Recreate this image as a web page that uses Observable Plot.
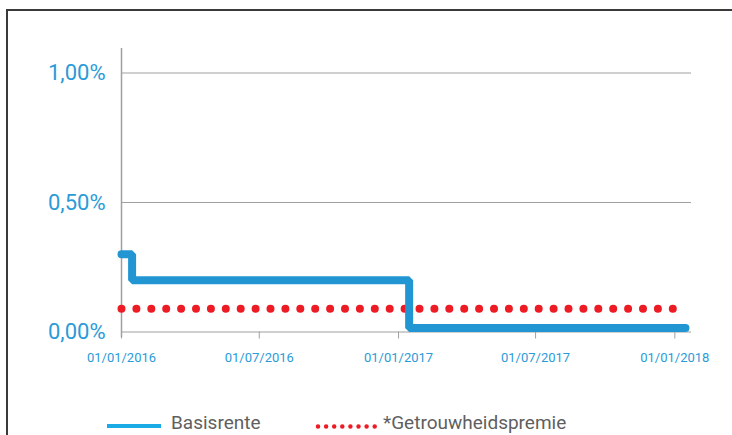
<!DOCTYPE html>
<html>
<head>
<meta charset="utf-8">
<script src="https://cdn.jsdelivr.net/npm/d3@7"></script>
<script src="https://cdn.jsdelivr.net/npm/@observablehq/plot@0.6"></script>
<style>
  html, body { margin: 0; padding: 0; background: #fff; }
  body { width: 732px; height: 435px; position: relative; overflow: hidden; font-family: Roboto, "Liberation Sans", sans-serif; }
  #frame { position: absolute; left: 6px; top: 9px; width: 740px; height: 440px; border-top: 2px solid #3a3a3a; border-left: 2px solid #3a3a3a; box-sizing: border-box; }
  #chart { position: absolute; left: 0; top: 0; }
  #legend { position: absolute; left: 0; top: 412px; width: 732px; height: 23px; font-size: 19px; line-height: 22px; color: #5f5f5f; }
  #legend .item { position: absolute; top: 0; display: flex; align-items: flex-start; white-space: nowrap; }
  #legend svg { display: block; }
</style>
</head>
<body>
<div id="frame"></div>
<div id="chart"></div>
<div id="legend"></div>
<script>
// Data
const seriesNames = ["Basisrente", "*Getrouwheidspremie"];
const basisDates = ["2016-01-01", "2016-01-15", "2017-01-15", "2018-01-15"];
const basisValues = [0.30, 0.20, 0.015, 0.015];
const premieDates = ["2016-01-01", "2018-01-15"];
const premieValues = [0.09, 0.09];
const yTicks = [0, 0.5, 1];
const xTicks = ["2016-01-01", "2016-07-01", "2017-01-01", "2017-07-01", "2018-01-01"];

const blue = "#2196d3";
const red = "#ed1c24";
const labelBlue = "#2b9bd8";
const grid = "#a0a0a0";

const parse = d3.utcParse("%Y-%m-%d");
const basis = basisDates.map((d, i) => ({date: parse(d), value: basisValues[i]}));
const premie = premieDates.map((d, i) => ({date: parse(d), value: premieValues[i]}));
const fmtY = d => d.toFixed(2).replace(".", ",") + "%";
const fmtX = d3.utcFormat("%d/%m/%Y");

const chart = Plot.plot({
  width: 732,
  height: 375,
  marginLeft: 121,
  marginRight: 41,
  marginTop: 72.5,
  marginBottom: 43.5,
  style: {fontFamily: "Roboto, 'Liberation Sans', sans-serif", background: "transparent", overflow: "visible"},
  x: {type: "utc", domain: [parse("2016-01-01"), parse("2018-01-23")]},
  y: {domain: [0, 1]},
  marks: [
    Plot.ruleY(yTicks, {stroke: grid, strokeWidth: 1.2}),
    Plot.ruleX([parse("2016-01-01")], {y1: 1.095, y2: -0.022, stroke: grid, strokeWidth: 1.5}),
    Plot.axisY({ticks: yTicks, tickSize: 0, tickPadding: 16, tickFormat: fmtY, fontSize: 22, color: labelBlue, label: null}),
    Plot.axisX({ticks: xTicks.map(parse), tickSize: 7, tickPadding: 14, tickFormat: fmtX, fontSize: 13, color: labelBlue, stroke: grid, label: null}),
    Plot.line(premie, {x: "date", y: "value", stroke: red, strokeWidth: 8, strokeDasharray: "0,14.9", strokeLinecap: "round"}),
    Plot.line(basis, {x: "date", y: "value", stroke: blue, strokeWidth: 8, curve: "step-after", strokeLinecap: "round", strokeLinejoin: "miter"})
  ]
});
chart.querySelectorAll("g[aria-label='x-axis tick']").forEach(el => el.setAttribute("stroke", grid));
document.getElementById("chart").append(chart);

// Legend
const legend = document.getElementById("legend");
function addItem(left, swatch, text) {
  const div = document.createElement("div");
  div.className = "item";
  div.style.left = left + "px";
  div.innerHTML = swatch + "<span>" + text + "</span>";
  legend.append(div);
}
addItem(106, '<svg width="65" height="22"><line x1="1" x2="55" y1="14" y2="14" stroke="#1aaae6" stroke-width="4"/></svg>', seriesNames[0]);
addItem(313, '<svg width="70" height="22"><line x1="5" x2="62" y1="14.5" y2="14.5" stroke="' + red + '" stroke-width="4.5" stroke-dasharray="0,8.1" stroke-linecap="round"/></svg>', seriesNames[1]);
</script>
</body>
</html>
